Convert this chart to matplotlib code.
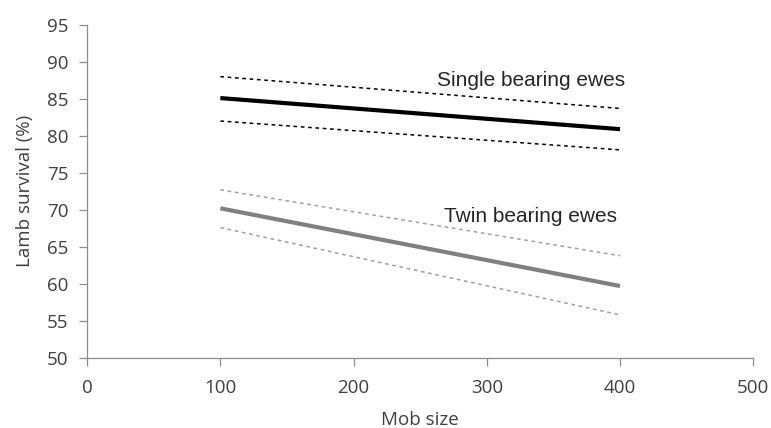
import matplotlib
matplotlib.use('Agg')
import matplotlib.pyplot as plt

# mob size at the two ends of each fitted line
mob_size = [100, 400]

single_fit = [85.1, 80.9]
single_upper = [88.0, 83.7]
single_lower = [82.0, 78.1]

twin_fit = [70.2, 59.7]
twin_upper = [72.7, 63.8]
twin_lower = [67.6, 55.8]

plt.rcParams['font.family'] = ['Open Sans', 'DejaVu Sans']

fig = plt.figure(figsize=(7.71, 4.28), dpi=100)
ax = fig.add_axes([0.113, 0.164, 0.864, 0.778])

dash = (0, (2.4, 2.4))
ax.plot(mob_size, single_upper, color='black', lw=1.1, ls=dash)
ax.plot(mob_size, single_fit, color='black', lw=3.0, solid_capstyle='butt')
ax.plot(mob_size, single_lower, color='black', lw=1.1, ls=dash)

ax.plot(mob_size, twin_upper, color='#a0a0a0', lw=1.1, ls=dash)
ax.plot(mob_size, twin_fit, color='#808080', lw=3.0, solid_capstyle='butt')
ax.plot(mob_size, twin_lower, color='#a0a0a0', lw=1.1, ls=dash)

ax.text(333, 86.7, 'Single bearing ewes', ha='center', va='baseline',
        fontsize=15, color='#262626', family=['Liberation Sans', 'DejaVu Sans'])
ax.text(333, 68.3, 'Twin bearing ewes', ha='center', va='baseline',
        fontsize=15, color='#262626', family=['Liberation Sans', 'DejaVu Sans'])

ax.set_xlim(0, 500)
ax.set_ylim(50, 95)
ax.set_xticks(range(0, 501, 100))
ax.set_yticks(range(50, 96, 5))

for side in ['top', 'right']:
    ax.spines[side].set_visible(False)
for side in ['left', 'bottom']:
    ax.spines[side].set_color('#8c8c8c')
    ax.spines[side].set_linewidth(0.9)

ax.tick_params(axis='both', colors='#8c8c8c', labelcolor='#404040',
               labelsize=13.5, length=5.5, width=0.9)
ax.tick_params(axis='y', pad=8)
ax.tick_params(axis='x', pad=9.5)

ax.set_xlabel('Mob size', fontsize=13.5, color='#404040', labelpad=10)
ax.set_ylabel('Lamb survival (%)', fontsize=13.5, color='#404040', labelpad=9)

fig.savefig('out.png', dpi=100)
